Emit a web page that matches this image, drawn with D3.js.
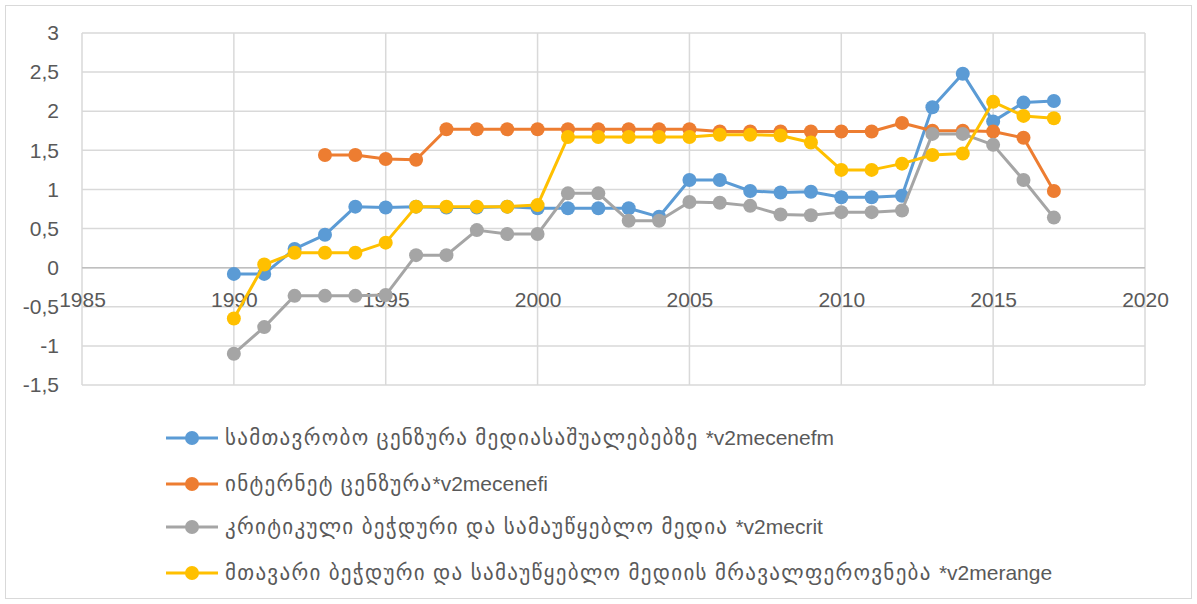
<!DOCTYPE html>
<html>
<head>
<meta charset="utf-8">
<script src="https://cdn.jsdelivr.net/npm/d3@7/dist/d3.min.js"></script>
<style>
  html, body { margin: 0; padding: 0; background: #fff; }
  svg { display: block; }
</style>
</head>
<body>
<svg id="chart" width="1197" height="604"></svg>
<script>
// ---- data ----
const years = [1990,1991,1992,1993,1994,1995,1996,1997,1998,1999,2000,2001,2002,2003,2004,2005,2006,2007,2008,2009,2010,2011,2012,2013,2014,2015,2016,2017];

const seriesNames = [
  "სამთავრობო ცენზურა მედიასაშუალებებზე *v2mecenefm",
  "ინტერნეტ ცენზურა*v2mecenefi",
  "კრიტიკული ბეჭდური და სამაუწყებლო მედია *v2mecrit",
  "მთავარი ბეჭდური და სამაუწყებლო მედიის მრავალფეროვნება *v2merange"
];
const seriesColors = ["#5b9bd5", "#ed7d31", "#a5a5a5", "#ffc000"];

const v2mecenefm = [-0.08,-0.08,0.24,0.42,0.78,0.77,0.78,0.77,0.77,0.78,0.76,0.76,0.76,0.76,0.65,1.12,1.12,0.98,0.96,0.97,0.90,0.90,0.92,2.05,2.48,1.87,2.11,2.13];
const v2mecenefi = [null,null,null,1.44,1.44,1.39,1.38,1.77,1.77,1.77,1.77,1.77,1.77,1.77,1.77,1.77,1.74,1.74,1.74,1.74,1.74,1.74,1.85,1.75,1.75,1.74,1.66,0.98];
const v2mecrit   = [-1.10,-0.76,-0.36,-0.36,-0.36,-0.35,0.16,0.16,0.48,0.43,0.43,0.95,0.95,0.60,0.60,0.84,0.83,0.79,0.68,0.67,0.71,0.71,0.73,1.71,1.71,1.57,1.12,0.64];
const v2merange  = [-0.65,0.04,0.19,0.19,0.19,0.32,0.78,0.78,0.78,0.78,0.80,1.67,1.67,1.67,1.67,1.67,1.70,1.70,1.69,1.60,1.25,1.25,1.33,1.44,1.46,2.12,1.94,1.91];

const yTicks = [-1.5,-1,-0.5,0,0.5,1,1.5,2,2.5,3];
const xTicks = [1985,1990,1995,2000,2005,2010,2015,2020];

const allSeries = [v2mecenefm, v2mecenefi, v2mecrit, v2merange];

// ---- layout ----
const svg = d3.select("#chart");
const W = 1197, H = 604;
const plot = {left: 82, right: 1145, top: 33, bottom: 385};
const fontFamily = "'Liberation Sans', 'DejaVu Sans', sans-serif";
const textColor = "#595959";
const gridColor = "#d9d9d9";
const fontSize = 21;

svg.append("rect").attr("x", 5.5).attr("y", 5.5).attr("width", W - 11).attr("height", H - 11)
  .attr("fill", "#fff").attr("stroke", "#d9d9d9").attr("stroke-width", 1);

const x = d3.scaleLinear().domain([1985, 2020]).range([plot.left, plot.right]);
const y = d3.scaleLinear().domain([-1.5, 3]).range([plot.bottom, plot.top]);

// gridlines
const grid = svg.append("g");
grid.selectAll("line.h").data(yTicks).join("line")
  .attr("x1", plot.left).attr("x2", plot.right)
  .attr("y1", d => y(d)).attr("y2", d => y(d))
  .attr("stroke", gridColor).attr("stroke-width", 1.5);
grid.selectAll("line.v").data(xTicks).join("line")
  .attr("x1", d => x(d)).attr("x2", d => x(d))
  .attr("y1", plot.top).attr("y2", plot.bottom)
  .attr("stroke", gridColor).attr("stroke-width", 1.5);
// axis at zero
svg.append("line").attr("x1", plot.left).attr("x2", plot.right)
  .attr("y1", y(0)).attr("y2", y(0)).attr("stroke", "#bfbfbf").attr("stroke-width", 1.5);

// y tick labels
const fmt = d => String(d).replace(".", ",");
const yAxis = d3.axisLeft(y).tickValues(yTicks).tickFormat(fmt).tickSize(0).tickPadding(23);
const yg = svg.append("g").attr("transform", `translate(${plot.left},0)`).call(yAxis);
yg.select(".domain").remove();
yg.selectAll("text").attr("font-family", fontFamily).attr("font-size", fontSize).attr("fill", textColor);

// x tick labels (positioned just below zero line)
const xAxis = d3.axisBottom(x).tickValues(xTicks).tickFormat(d3.format("d")).tickSize(0).tickPadding(24);
const xg = svg.append("g").attr("transform", `translate(0,${y(0)})`).call(xAxis);
xg.select(".domain").remove();
xg.selectAll("text").attr("font-family", fontFamily).attr("font-size", fontSize).attr("fill", textColor);

// lines & markers
const line = d3.line().defined(d => d[1] !== null).x(d => x(d[0])).y(d => y(d[1]));
allSeries.forEach((vals, i) => {
  const pts = years.map((yr, j) => [yr, vals[j]]);
  const g = svg.append("g");
  g.append("path").datum(pts).attr("d", line).attr("fill", "none")
    .attr("stroke", seriesColors[i]).attr("stroke-width", 3).attr("stroke-linejoin", "round");
  g.selectAll("circle").data(pts.filter(d => d[1] !== null)).join("circle")
    .attr("cx", d => x(d[0])).attr("cy", d => y(d[1])).attr("r", 7)
    .attr("fill", seriesColors[i]);
});

// legend
const legendY = [438, 484, 527, 573];
const lg = svg.append("g");
seriesNames.forEach((name, i) => {
  const g = lg.append("g").attr("transform", `translate(0,${legendY[i]})`);
  g.append("line").attr("x1", 166).attr("x2", 218).attr("y1", 0).attr("y2", 0)
    .attr("stroke", seriesColors[i]).attr("stroke-width", 3);
  g.append("circle").attr("cx", 192).attr("cy", 0).attr("r", 7).attr("fill", seriesColors[i]);
  const k = name.indexOf("*");
  const t = g.append("text").attr("x", 225).attr("y", 7)
    .attr("font-family", fontFamily).attr("font-size", fontSize).attr("fill", textColor);
  t.append("tspan").attr("letter-spacing", 1.3).text(name.slice(0, k));
  t.append("tspan").text(name.slice(k));
});
</script>
</body>
</html>
